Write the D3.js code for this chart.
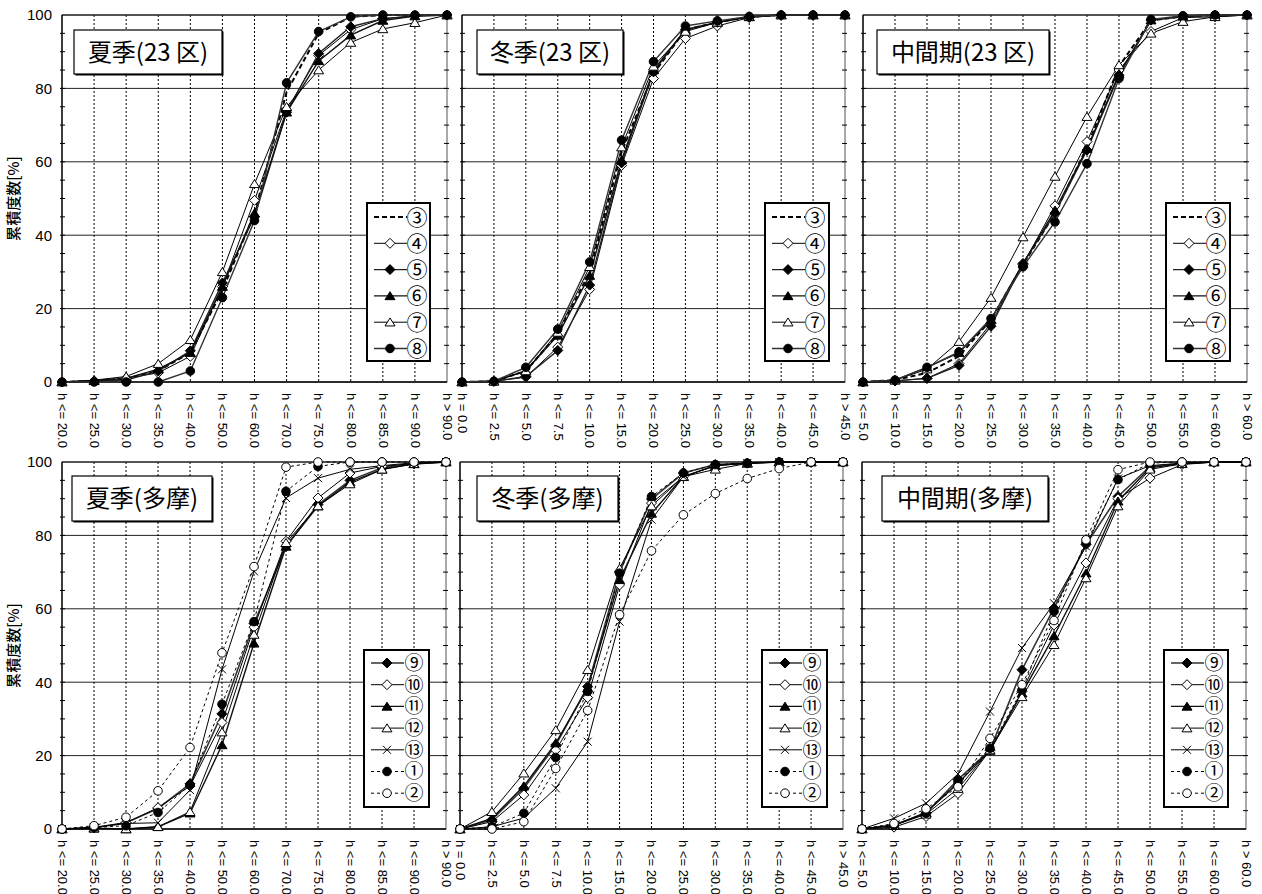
<!DOCTYPE html>
<html>
<head>
<meta charset="utf-8">
<script src="https://cdn.jsdelivr.net/npm/d3@7"></script>
<style>
  html, body { margin: 0; padding: 0; background: #fff; }
  svg { display: block; }
  text { font-family: "Liberation Sans", Arial, "Noto Sans CJK JP", sans-serif; fill: #000; }
  .jp { font-family: "Noto Sans CJK JP", sans-serif; }
  .circ { font-family: "Liberation Sans", "Noto Sans CJK JP", sans-serif; }
</style>
</head>
<body>
<svg id="chart" width="1262" height="894"></svg>
<script>
// ---------------- categories ----------------
const catsSummer = ["h <= 20.0","h <= 25.0","h <= 30.0","h <= 35.0","h <= 40.0","h <= 50.0","h <= 60.0","h <= 70.0","h <= 75.0","h <= 80.0","h <= 85.0","h <= 90.0","h > 90.0"];
const catsWinter = ["h = 0.0","h <= 2.5","h <= 5.0","h <= 7.5","h <= 10.0","h <= 15.0","h <= 20.0","h <= 25.0","h <= 30.0","h <= 35.0","h <= 40.0","h <= 45.0","h > 45.0"];
const catsMid    = ["h <= 5.0","h <= 10.0","h <= 15.0","h <= 20.0","h <= 25.0","h <= 30.0","h <= 35.0","h <= 40.0","h <= 45.0","h <= 50.0","h <= 55.0","h <= 60.0","h > 60.0"];
const yTicks = [0, 20, 40, 60, 80, 100];

// ---------------- 夏季(23 区) ----------------
const summer23_3 = [0, 0.3, 1, 3, 8, 25, 46, 79, 95, 99.5, 100, 100, 100];
const summer23_4 = [0, 0.3, 1, 2.5, 7, 26, 49.5, 74, 89, 96, 99, 99.8, 100];
const summer23_5 = [0, 0.3, 0.5, 3, 8.5, 27, 45, 73.5, 89.5, 96.8, 99, 99.7, 100];
const summer23_6 = [0, 0.3, 1, 3.5, 8, 26, 46, 73.5, 87.5, 94.5, 98.5, 99.7, 100];
const summer23_7 = [0, 0.5, 1.5, 5, 11.5, 30, 54, 75, 85, 92.5, 96.2, 97.9, 100];
const summer23_8 = [0, 0, 0, 0, 3, 23, 44, 81.5, 95.5, 99.5, 100, 100, 100];

// ---------------- 冬季(23 区) ----------------
const winter23_3 = [0, 0.2, 3, 13, 30, 62.7, 84, 96, 98, 99.5, 100, 100, 100];
const winter23_4 = [0, 0.2, 1.3, 9.5, 25.2, 59, 82.7, 93.6, 97, 99.3, 100, 100, 100];
const winter23_5 = [0, 0.2, 1.5, 8.6, 26.4, 59.7, 84.5, 96, 98, 99.5, 100, 100, 100];
const winter23_6 = [0, 0.2, 3, 12.7, 29, 60.5, 85, 96, 98, 99.5, 100, 100, 100];
const winter23_7 = [0, 0.2, 3, 13.5, 31.4, 64, 86, 95.5, 98, 99.5, 100, 100, 100];
const winter23_8 = [0, 0.2, 4, 14.4, 32.7, 65.9, 87.3, 97, 98.4, 99.6, 100, 100, 100];

// ---------------- 中間期(23 区) ----------------
const mid23_3 = [0, 0.5, 2.5, 7, 17, 32, 46, 64, 86, 98.5, 99.6, 100, 100];
const mid23_4 = [0, 0.3, 1, 5, 16, 32, 48, 65.5, 85, 95.5, 99.3, 99.5, 100];
const mid23_5 = [0, 0.3, 1, 4.5, 15.2, 32.3, 46, 63.2, 83.6, 98.6, 99.6, 100, 100];
const mid23_6 = [0, 0.5, 4, 8, 17, 32.3, 46.8, 63.6, 84, 98.6, 99.6, 100, 100];
const mid23_7 = [0, 0.5, 3.5, 11, 23, 39.5, 56, 72.3, 86.4, 95, 98.2, 99.5, 100];
const mid23_8 = [0, 0.5, 4, 8.2, 17.3, 31.4, 43.6, 59.5, 82.7, 98.8, 99.8, 100, 100];

// ---------------- 夏季(多摩) ----------------
const summerTama_9  = [0, 0.4, 1.7, 5.6, 12.3, 31.4, 56, 77, 88.4, 95, 98.4, 99.5, 100];
const summerTama_10 = [0, 0.4, 1.7, 5.8, 11.7, 29, 55, 78.4, 90.2, 97, 98.8, 99.6, 100];
const summerTama_11 = [0, 0.2, 0, 0.6, 4.3, 22.9, 50.6, 77, 88, 94.5, 98, 99.5, 100];
const summerTama_12 = [0, 0.2, 0, 0.6, 4.7, 26.4, 53, 78, 88, 94, 98, 99.5, 100];
const summerTama_13 = [0, 0.4, 1.5, 1.7, 10.6, 43.5, 70.2, 90.2, 95.6, 98, 99, 99.8, 100];
const summerTama_1  = [0, 0.4, 0.9, 4.5, 12, 34, 56.5, 92, 98.8, 100, 100, 100, 100];
const summerTama_2  = [0, 0.9, 3.2, 10.4, 22.2, 48, 71.5, 98.6, 100, 100, 100, 100, 100];

// ---------------- 冬季(多摩) ----------------
const winterTama_9  = [0, 2.5, 11.1, 22.9, 38.8, 70, 89.9, 97, 99.3, 99.7, 100, 100, 100];
const winterTama_10 = [0, 2, 9.3, 21.5, 35.8, 66.5, 88.8, 96, 99, 99.7, 100, 100, 100];
const winterTama_11 = [0, 2.9, 11.7, 23.4, 38.4, 67.9, 86, 96, 99, 99.7, 100, 100, 100];
const winterTama_12 = [0, 4.7, 15.2, 27, 43.4, 71, 88, 96, 98, 99.6, 100, 100, 100];
const winterTama_13 = [0, 0.6, 3, 11.1, 23.8, 56.5, 84.3, 96, 99, 99.7, 100, 100, 100];
const winterTama_1  = [0, 0.6, 4.3, 19.5, 37.5, 69.7, 90.6, 97, 99.3, 99.7, 100, 100, 100];
const winterTama_2  = [0, 0, 2, 16.5, 32.3, 58.4, 75.8, 85.6, 91.4, 95.5, 98.2, 100, 100];

// ---------------- 中間期(多摩) ----------------
const midTama_9  = [0, 1.1, 4.3, 13.5, 21.5, 43.4, 60.2, 77.5, 90.6, 98.8, 99.6, 100, 100];
const midTama_10 = [0, 0.5, 3.4, 9.7, 21.5, 37.5, 55.6, 72.5, 90, 95.6, 99.3, 100, 100];
const midTama_11 = [0, 1, 4.5, 12.5, 21.4, 37, 52.6, 69.7, 89.3, 98.4, 99.6, 100, 100];
const midTama_12 = [0, 1, 4, 11, 21.5, 36, 50.2, 68.4, 88, 98, 99.5, 100, 100];
const midTama_13 = [0, 2.9, 7, 15, 32, 49.3, 61.5, 77, 95.5, 99, 99.7, 100, 100];
const midTama_1  = [0, 1, 4.3, 12.9, 22, 37.9, 59.3, 77.9, 95.2, 99.7, 100, 100, 100];
const midTama_2  = [0, 1.5, 5.5, 11.5, 24.7, 39.3, 56.8, 78.8, 97.9, 100, 100, 100, 100];

// ---------------- series styles ----------------
const styles = {
  "③": { marker: null,       fill: null,   dash: "5,3", width: 2,   color: "#000" },
  "④": { marker: "diamond",  fill: "#fff", dash: null,  width: 1,   color: "#000" },
  "⑤": { marker: "diamond",  fill: "#000", dash: null,  width: 1.4, color: "#222" },
  "⑥": { marker: "triangle", fill: "#000", dash: null,  width: 1.4, color: "#111" },
  "⑦": { marker: "triangle", fill: "#fff", dash: null,  width: 1,   color: "#000" },
  "⑧": { marker: "circle",   fill: "#000", dash: null,  width: 1.4, color: "#333" },
  "⑨": { marker: "diamond",  fill: "#000", dash: null,  width: 1.6, color: "#333" },
  "⑩": { marker: "diamond",  fill: "#fff", dash: null,  width: 1,   color: "#000" },
  "⑪": { marker: "triangle", fill: "#000", dash: null,  width: 1.4, color: "#111" },
  "⑫": { marker: "triangle", fill: "#fff", dash: null,  width: 1,   color: "#000" },
  "⑬": { marker: "x",        fill: "none", dash: null,  width: 1,   color: "#000" },
  "①": { marker: "circle",   fill: "#000", dash: "3,3", width: 1,   color: "#000" },
  "②": { marker: "circle",   fill: "#fff", dash: "3,3", width: 1,   color: "#000" }
};

const names23 = ["③","④","⑤","⑥","⑦","⑧"];
const namesTama = ["⑨","⑩","⑪","⑫","⑬","①","②"];

const panels = [
  { title: "夏季(23 区)", cats: catsSummer, names: names23,
    values: [summer23_3, summer23_4, summer23_5, summer23_6, summer23_7, summer23_8],
    x0: 62, x1: 447, y0: 15, y1: 382, box: [74, 30, 148, 44], legend: [367, 203, 63, 158], yAxis: true },
  { title: "冬季(23 区)", cats: catsWinter, names: names23,
    values: [winter23_3, winter23_4, winter23_5, winter23_6, winter23_7, winter23_8],
    x0: 462, x1: 845, y0: 15, y1: 382, box: [477, 30, 146, 44], legend: [765, 203, 64, 158], yAxis: false },
  { title: "中間期(23 区)", cats: catsMid, names: names23,
    values: [mid23_3, mid23_4, mid23_5, mid23_6, mid23_7, mid23_8],
    x0: 863, x1: 1247, y0: 15, y1: 382, box: [877, 30, 172, 44], legend: [1166, 203, 64, 158], yAxis: false },
  { title: "夏季(多摩)", cats: catsSummer, names: namesTama,
    values: [summerTama_9, summerTama_10, summerTama_11, summerTama_12, summerTama_13, summerTama_1, summerTama_2],
    x0: 62, x1: 446, y0: 462, y1: 829, box: [72, 476, 140, 45], legend: [364, 650, 65, 157], yAxis: true },
  { title: "冬季(多摩)", cats: catsWinter, names: namesTama,
    values: [winterTama_9, winterTama_10, winterTama_11, winterTama_12, winterTama_13, winterTama_1, winterTama_2],
    x0: 460, x1: 843, y0: 462, y1: 829, box: [477, 476, 141, 45], legend: [762, 650, 65, 157], yAxis: false },
  { title: "中間期(多摩)", cats: catsMid, names: namesTama,
    values: [midTama_9, midTama_10, midTama_11, midTama_12, midTama_13, midTama_1, midTama_2],
    x0: 862, x1: 1246, y0: 462, y1: 829, box: [882, 476, 166, 45], legend: [1164, 650, 64, 157], yAxis: false }
];

// ---------------- custom symbols ----------------
const symDiamond = { draw(ctx, size) { const r = Math.sqrt(size) / 2; ctx.moveTo(0, -r); ctx.lineTo(r, 0); ctx.lineTo(0, r); ctx.lineTo(-r, 0); ctx.closePath(); } };
const symTriangle = { draw(ctx, size) { const r = Math.sqrt(size) / 2; ctx.moveTo(0, -r * 0.85); ctx.lineTo(r, r * 0.75); ctx.lineTo(-r, r * 0.75); ctx.closePath(); } };
const symX = { draw(ctx, size) { const r = Math.sqrt(size) / 2; ctx.moveTo(-r, -r); ctx.lineTo(r, r); ctx.moveTo(r, -r); ctx.lineTo(-r, r); } };
const symbolPath = {
  diamond: d3.symbol().type(symDiamond).size(100)(),
  triangle: d3.symbol().type(symTriangle).size(100)(),
  circle: d3.symbol().type(d3.symbolCircle).size(58)(),
  x: d3.symbol().type(symX).size(64)()
};

const svg = d3.select("#chart");

function drawMarker(g, name, cx, cy) {
  const st = styles[name];
  if (!st.marker) return;
  g.append("path")
    .attr("d", symbolPath[st.marker])
    .attr("transform", `translate(${cx},${cy})`)
    .attr("fill", st.fill)
    .attr("stroke", "#000")
    .attr("stroke-width", 1);
}

panels.forEach(p => {
  const g = svg.append("g");
  const x = d3.scalePoint().domain(p.cats).range([p.x0, p.x1]).padding(0);
  const y = d3.scaleLinear().domain([0, 100]).range([p.y1, p.y0]);

  // horizontal grid
  g.selectAll(".hg").data([20, 40, 60, 80]).join("line")
    .attr("x1", p.x0).attr("x2", p.x1)
    .attr("y1", d => y(d)).attr("y2", d => y(d))
    .attr("stroke", "#222").attr("stroke-width", 1);

  // vertical dotted grid
  g.selectAll(".vg").data(p.cats.slice(1, -1)).join("line")
    .attr("x1", d => x(d)).attr("x2", d => x(d))
    .attr("y1", p.y0).attr("y2", p.y1)
    .attr("stroke", "#000").attr("stroke-width", 1).attr("stroke-dasharray", "2,2");

  // border
  g.append("rect").attr("x", p.x0).attr("y", p.y0)
    .attr("width", p.x1 - p.x0).attr("height", p.y1 - p.y0)
    .attr("fill", "none").attr("stroke", "#555").attr("stroke-width", 1);
  g.append("line").attr("x1", p.x0).attr("x2", p.x0).attr("y1", p.y0).attr("y2", p.y1)
    .attr("stroke", "#000").attr("stroke-width", 1.3);
  g.append("line").attr("x1", p.x0).attr("x2", p.x1).attr("y1", p.y1).attr("y2", p.y1)
    .attr("stroke", "#000").attr("stroke-width", 1.3);
  g.append("line").attr("x1", p.x0).attr("x2", p.x1).attr("y1", p.y0).attr("y2", p.y0)
    .attr("stroke", "#000").attr("stroke-width", 1);

  // minor ticks every 5
  const minor = d3.range(5, 100, 5);
  g.selectAll(".mtl").data(minor).join("line")
    .attr("x1", p.x0 - 2).attr("x2", p.x0 + 3)
    .attr("y1", d => y(d)).attr("y2", d => y(d))
    .attr("stroke", "#000").attr("stroke-width", 1);
  g.selectAll(".mtr").data(minor).join("line")
    .attr("x1", p.x1 - 3).attr("x2", p.x1 + 2)
    .attr("y1", d => y(d)).attr("y2", d => y(d))
    .attr("stroke", "#000").attr("stroke-width", 1);

  // x axis labels (rotated)
  const xa = g.append("g").attr("transform", `translate(0,${p.y1})`)
    .call(d3.axisBottom(x).tickSize(0).tickPadding(0));
  xa.select(".domain").remove();
  xa.selectAll("text")
    .attr("transform", "rotate(90)")
    .attr("x", 11).attr("y", 0).attr("dy", "0.36em")
    .attr("text-anchor", "start")
    .attr("font-size", 13)
    .attr("font-family", "'Liberation Sans', Arial, sans-serif")
    .attr("fill", "#000");

  // y axis labels
  if (p.yAxis) {
    const ya = g.append("g").attr("transform", `translate(${p.x0},0)`)
      .call(d3.axisLeft(y).tickValues(yTicks).tickSize(0).tickPadding(10));
    ya.select(".domain").remove();
    ya.selectAll("text").attr("font-size", 15)
      .attr("font-family", "'Liberation Sans', Arial, sans-serif").attr("fill", "#000");
    g.append("text")
      .attr("class", "jp")
      .attr("transform", `translate(19,${(p.y0 + p.y1) / 2}) rotate(-90)`)
      .attr("text-anchor", "middle")
      .attr("font-size", 15)
      .attr("font-weight", 500)
      .text("累積度数[%]");
  }

  // series lines
  const line = d3.line().x((d, i) => x(p.cats[i])).y(d => y(d));
  p.names.forEach((name, k) => {
    const st = styles[name];
    g.append("path").datum(p.values[k])
      .attr("d", line)
      .attr("fill", "none")
      .attr("stroke", st.color)
      .attr("stroke-width", st.width)
      .attr("stroke-dasharray", st.dash);
  });
  // markers
  p.names.forEach((name, k) => {
    p.values[k].forEach((v, i) => drawMarker(g, name, x(p.cats[i]), y(v)));
  });

  // title box
  const [bx, by, bw, bh] = p.box;
  g.append("rect").attr("x", bx + 1.5).attr("y", by + 1.5).attr("width", bw).attr("height", bh)
    .attr("fill", "#000");
  g.append("rect").attr("x", bx).attr("y", by).attr("width", bw).attr("height", bh)
    .attr("fill", "#fff").attr("stroke", "#000").attr("stroke-width", 1.2);
  g.append("text").attr("class", "jp")
    .attr("x", bx + bw / 2).attr("y", by + bh / 2).attr("dy", "0.36em")
    .attr("text-anchor", "middle").attr("font-size", 24)
    .text(p.title);

  // legend
  const [lx, ly, lw, lh] = p.legend;
  g.append("rect").attr("x", lx).attr("y", ly).attr("width", lw).attr("height", lh)
    .attr("fill", "#fff").attr("stroke", "#000").attr("stroke-width", 2);
  const n = p.names.length;
  const step = n === 6 ? 26.3 : 21.7;
  const first = n === 6 ? 14 : 13;
  const fs = n === 6 ? 21 : 19;
  p.names.forEach((name, k) => {
    const st = styles[name];
    const cy = ly + first + k * step;
    g.append("line").attr("x1", lx + 7).attr("x2", lx + 40).attr("y1", cy).attr("y2", cy)
      .attr("stroke", st.color).attr("stroke-width", st.width)
      .attr("stroke-dasharray", st.dash);
    drawMarker(g, name, lx + 23, cy);
    g.append("text").attr("class", "circ")
      .attr("x", lx + 50).attr("y", cy).attr("dy", "0.36em")
      .attr("text-anchor", "middle").attr("font-size", fs)
      .text(name);
  });
});
</script>
</body>
</html>
